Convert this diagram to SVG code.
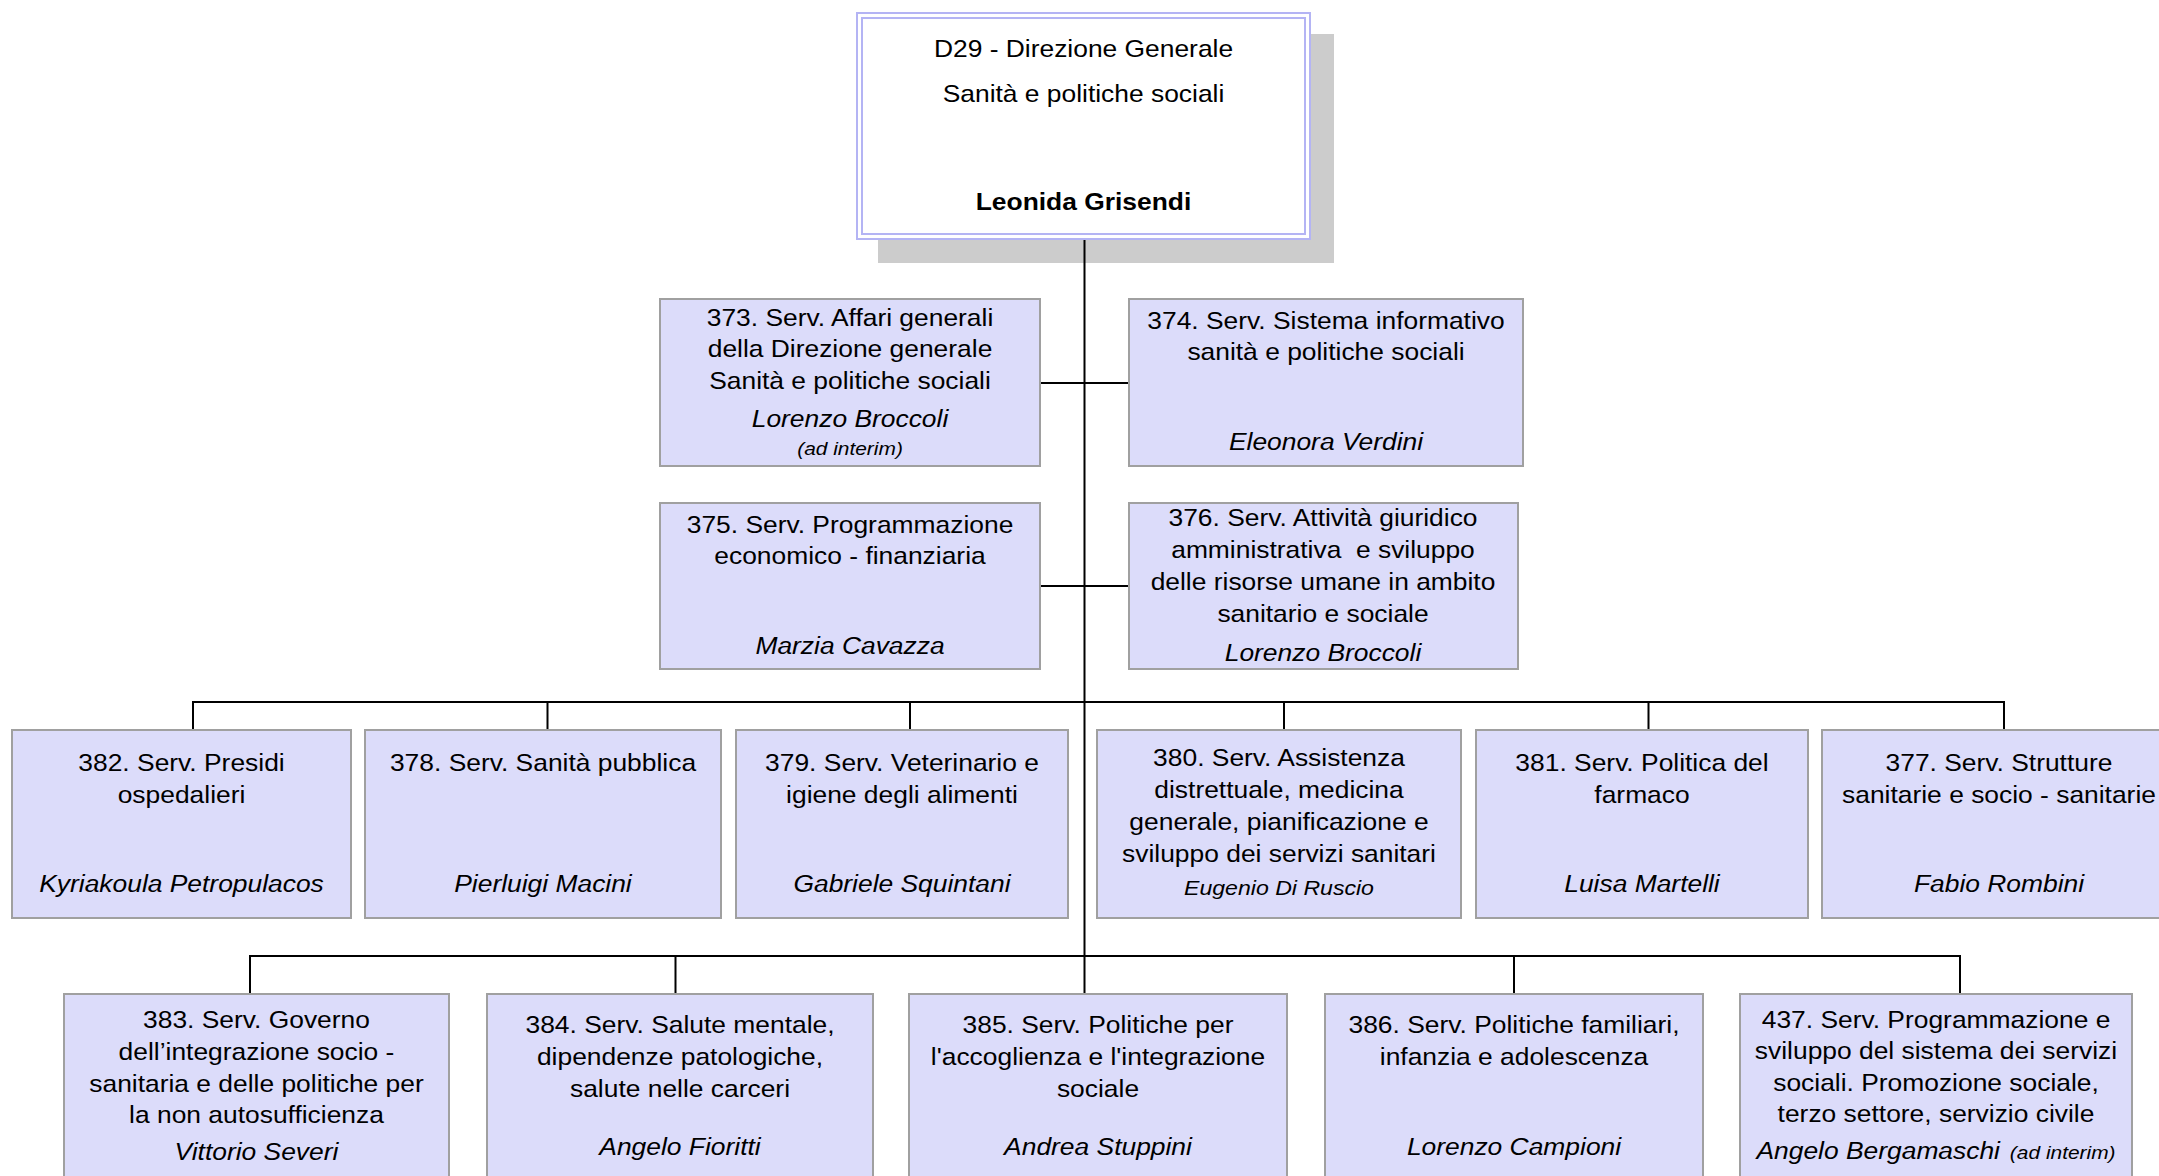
<svg xmlns="http://www.w3.org/2000/svg" width="2159" height="1176" viewBox="0 0 2159 1176">
<style>
.bg{fill:#ffffff}
.box{fill:#dcdcfa;stroke:#a0a0a0;stroke-width:2}
.t{font-family:"Liberation Sans",Arial,sans-serif;font-size:24px;text-anchor:middle;fill:#000}
.n{font-style:italic}
.s{font-size:19px;font-style:italic}
.m{font-size:21px;font-style:italic}
.b{font-weight:bold}
.conn{stroke:#000;stroke-width:2;fill:none}
</style>
<rect class="bg" x="0" y="0" width="2159" height="1176"/>
<g id="d29">
<rect x="878" y="34" width="456" height="229" fill="#cccccc"/>
<rect x="857" y="13" width="453" height="226" fill="#ffffff" stroke="#b4b4f4" stroke-width="2"/>
<rect x="862" y="18" width="443" height="216" fill="none" stroke="#b4b4f4" stroke-width="2"/>
<g transform="translate(1083.5 0) scale(1.1 1)">
<text class="t" x="0" y="57">D29 - Direzione Generale</text>
<text class="t" x="0" y="102">Sanità e politiche sociali</text>
<text class="t b" x="0" y="210">Leonida Grisendi</text>
</g>
</g>
<g id="connectors">
<path class="conn" d="M1084.5 240V994"/>
<path class="conn" d="M1040 383H1129"/>
<path class="conn" d="M1040 586H1129"/>
<path class="conn" d="M193 702H2004M193 701V730M547.5 702V730M910 702V730M1284 702V730M1648.5 702V730M2004 701V730"/>
<path class="conn" d="M250 956H1960M250 955V994M675.5 956V994M1514 956V994M1960 955V994"/>
</g>
<g id="s373">
<rect class="box" x="660" y="299" width="380" height="167"/>
<g transform="translate(850 0) scale(1.1 1)">
<text class="t" x="0" y="326">373. Serv. Affari generali</text>
<text class="t" x="0" y="357">della Direzione generale</text>
<text class="t" x="0" y="389">Sanità e politiche sociali</text>
<text class="t n" x="0" y="427">Lorenzo Broccoli</text>
<text class="t s" x="0" y="455">(ad interim)</text>
</g>
</g>
<g id="s374">
<rect class="box" x="1129" y="299" width="394" height="167"/>
<g transform="translate(1326 0) scale(1.1 1)">
<text class="t" x="0" y="329">374. Serv. Sistema informativo</text>
<text class="t" x="0" y="360">sanità e politiche sociali</text>
<text class="t n" x="0" y="450">Eleonora Verdini</text>
</g>
</g>
<g id="s375">
<rect class="box" x="660" y="503" width="380" height="166"/>
<g transform="translate(850 0) scale(1.1 1)">
<text class="t" x="0" y="533">375. Serv. Programmazione</text>
<text class="t" x="0" y="564">economico - finanziaria</text>
<text class="t n" x="0" y="654">Marzia Cavazza</text>
</g>
</g>
<g id="s376">
<rect class="box" x="1129" y="503" width="389" height="166"/>
<g transform="translate(1323 0) scale(1.1 1)">
<text class="t" x="0" y="526">376. Serv. Attività giuridico</text>
<text class="t" x="0" y="558">amministrativa&#160; e sviluppo</text>
<text class="t" x="0" y="590">delle risorse umane in ambito</text>
<text class="t" x="0" y="622">sanitario e sociale</text>
<text class="t n" x="0" y="661">Lorenzo Broccoli</text>
</g>
</g>
<g id="s382">
<rect class="box" x="12" y="730" width="339" height="188"/>
<g transform="translate(181.5 0) scale(1.1 1)">
<text class="t" x="0" y="771">382. Serv. Presidi</text>
<text class="t" x="0" y="803">ospedalieri</text>
<text class="t n" x="0" y="892">Kyriakoula Petropulacos</text>
</g>
</g>
<g id="s378">
<rect class="box" x="365" y="730" width="356" height="188"/>
<g transform="translate(543 0) scale(1.1 1)">
<text class="t" x="0" y="771">378. Serv. Sanità pubblica</text>
<text class="t n" x="0" y="892">Pierluigi Macini</text>
</g>
</g>
<g id="s379">
<rect class="box" x="736" y="730" width="332" height="188"/>
<g transform="translate(902 0) scale(1.1 1)">
<text class="t" x="0" y="771">379. Serv. Veterinario e</text>
<text class="t" x="0" y="803">igiene degli alimenti</text>
<text class="t n" x="0" y="892">Gabriele Squintani</text>
</g>
</g>
<g id="s380">
<rect class="box" x="1097" y="730" width="364" height="188"/>
<g transform="translate(1279 0) scale(1.1 1)">
<text class="t" x="0" y="766">380. Serv. Assistenza</text>
<text class="t" x="0" y="798">distrettuale, medicina</text>
<text class="t" x="0" y="830">generale, pianificazione e</text>
<text class="t" x="0" y="862">sviluppo dei servizi sanitari</text>
<text class="t m" x="0" y="895">Eugenio Di Ruscio</text>
</g>
</g>
<g id="s381">
<rect class="box" x="1476" y="730" width="332" height="188"/>
<g transform="translate(1642 0) scale(1.1 1)">
<text class="t" x="0" y="771">381. Serv. Politica del</text>
<text class="t" x="0" y="803">farmaco</text>
<text class="t n" x="0" y="892">Luisa Martelli</text>
</g>
</g>
<g id="s377">
<rect class="box" x="1822" y="730" width="354" height="188"/>
<g transform="translate(1999 0) scale(1.1 1)">
<text class="t" x="0" y="771">377. Serv. Strutture</text>
<text class="t" x="0" y="803">sanitarie e socio - sanitarie</text>
<text class="t n" x="0" y="892">Fabio Rombini</text>
</g>
</g>
<g id="s383">
<rect class="box" x="64" y="994" width="385" height="200"/>
<g transform="translate(256.5 0) scale(1.1 1)">
<text class="t" x="0" y="1028">383. Serv. Governo</text>
<text class="t" x="0" y="1060">dell’integrazione socio -</text>
<text class="t" x="0" y="1092">sanitaria e delle politiche per</text>
<text class="t" x="0" y="1123">la non autosufficienza</text>
<text class="t n" x="0" y="1160">Vittorio Severi</text>
</g>
</g>
<g id="s384">
<rect class="box" x="487" y="994" width="386" height="200"/>
<g transform="translate(680 0) scale(1.1 1)">
<text class="t" x="0" y="1033">384. Serv. Salute mentale,</text>
<text class="t" x="0" y="1065">dipendenze patologiche,</text>
<text class="t" x="0" y="1097">salute nelle carceri</text>
<text class="t n" x="0" y="1155">Angelo Fioritti</text>
</g>
</g>
<g id="s385">
<rect class="box" x="909" y="994" width="378" height="200"/>
<g transform="translate(1098 0) scale(1.1 1)">
<text class="t" x="0" y="1033">385. Serv. Politiche per</text>
<text class="t" x="0" y="1065">l'accoglienza e l'integrazione</text>
<text class="t" x="0" y="1097">sociale</text>
<text class="t n" x="0" y="1155">Andrea Stuppini</text>
</g>
</g>
<g id="s386">
<rect class="box" x="1325" y="994" width="378" height="200"/>
<g transform="translate(1514 0) scale(1.1 1)">
<text class="t" x="0" y="1033">386. Serv. Politiche familiari,</text>
<text class="t" x="0" y="1065">infanzia e adolescenza</text>
<text class="t n" x="0" y="1155">Lorenzo Campioni</text>
</g>
</g>
<g id="s437">
<rect class="box" x="1740" y="994" width="392" height="200"/>
<g transform="translate(1936 0) scale(1.1 1)">
<text class="t" x="0" y="1028">437. Serv. Programmazione e</text>
<text class="t" x="0" y="1059">sviluppo del sistema dei servizi</text>
<text class="t" x="0" y="1091">sociali. Promozione sociale,</text>
<text class="t" x="0" y="1122">terzo settore, servizio civile</text>
<text class="t n" x="0" y="1159">Angelo Bergamaschi<tspan class="s" dx="9">(ad interim)</tspan></text>
</g>
</g>
</svg>
